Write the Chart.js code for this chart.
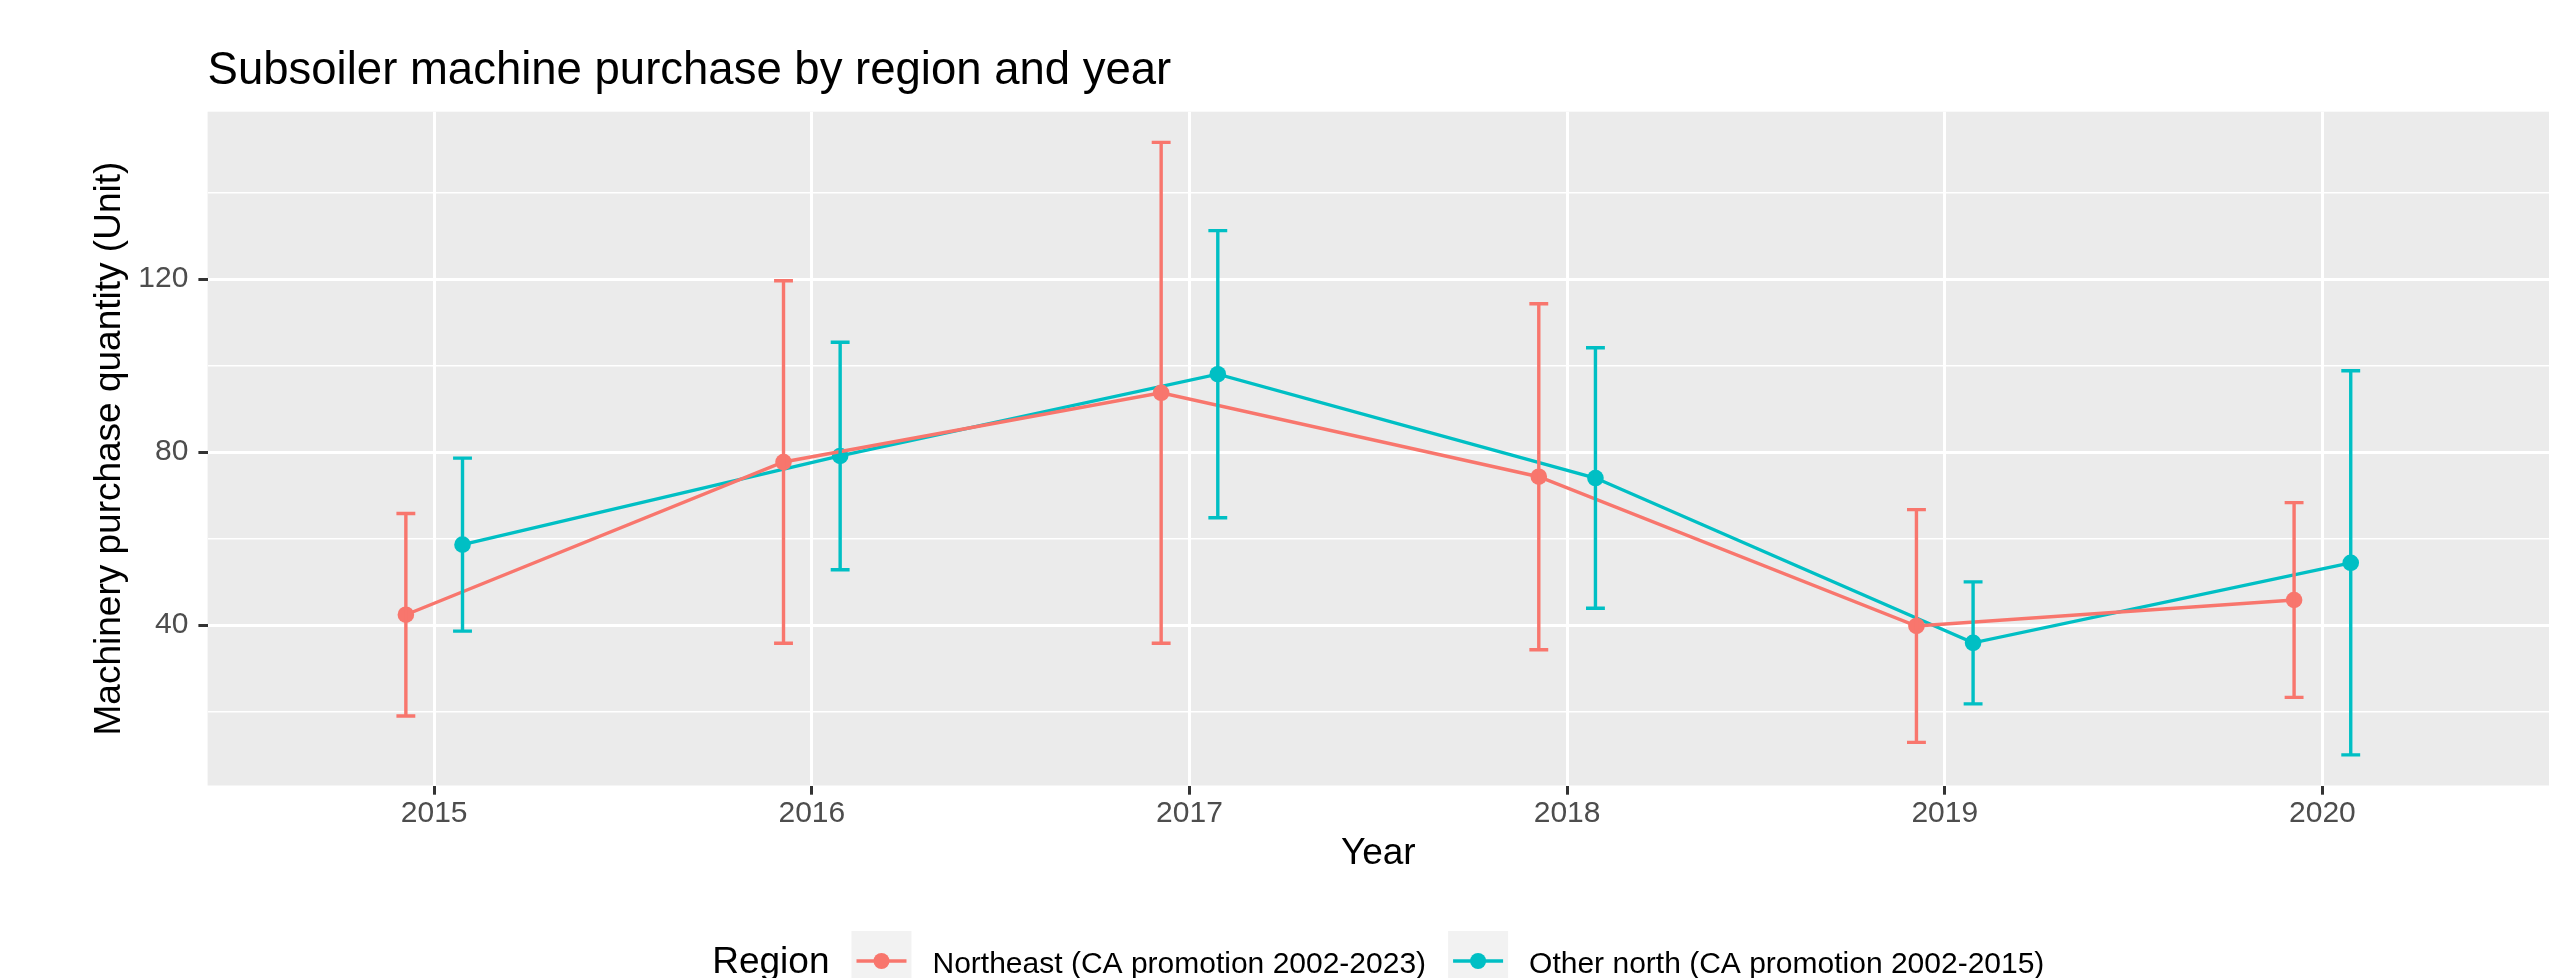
<!DOCTYPE html>
<html>
<head>
<meta charset="utf-8">
<script src="https://cdn.jsdelivr.net/npm/chart.js@4.4.1/dist/chart.umd.min.js"></script>
<style>
  html, body { margin: 0; padding: 0; background: #ffffff; }
  canvas { display: block; }
</style>
</head>
<body>
<canvas id="chart" width="2567" height="978"></canvas>
<script>
// Survey years and yearly mean purchases with their error half-widths
const years = [2015, 2016, 2017, 2018, 2019, 2020];
const northeastMean = [42.4, 77.7, 93.7, 74.3, 39.8, 45.8];
const northeastErr  = [23.4, 41.9, 57.9, 40.0, 26.9, 22.5];
const otherNorthMean = [58.6, 79.1, 98.0, 74.0, 35.9, 54.4];
const otherNorthErr  = [20.0, 26.3, 33.2, 30.1, 14.1, 44.4];

const seriesNames = ['Northeast (CA promotion 2002-2023)', 'Other north (CA promotion 2002-2015)'];
const seriesColors = ['#F8766D', '#00BFC4'];
const yMajorTicks = [40, 80, 120];
const yMinorTicks = [20, 60, 100, 140];

const titleText = 'Subsoiler machine purchase by region and year';
const xTitle = 'Year';
const yTitle = 'Machinery purchase quantity (Unit)';
const legendTitle = 'Region';

const FONT = '"Liberation Sans", Arial, Helvetica, sans-serif';
const DODGE = 0.075;      // horizontal offset of each group around its year
const CAP_HALF = 0.025;   // half-width of error bar caps, in year units
const LINE_W = 3.4;

// y limits: data extent padded by 5% on each side
const allLow = northeastMean.map((m, i) => m - northeastErr[i])
  .concat(otherNorthMean.map((m, i) => m - otherNorthErr[i]));
const allHigh = northeastMean.map((m, i) => m + northeastErr[i])
  .concat(otherNorthMean.map((m, i) => m + otherNorthErr[i]));
const dataMin = Math.min(...allLow), dataMax = Math.max(...allHigh);
const ySpan = dataMax - dataMin;
const yMin = dataMin - 0.05 * ySpan;
const yMax = dataMax + 0.05 * ySpan;
const xMin = years[0] - 0.6;
const xMax = years[years.length - 1] + 0.6;

function buildPoints(means, offset) {
  return years.map((yr, i) => ({ x: yr + offset, y: means[i] }));
}

const panelBackground = {
  id: 'panelBackground',
  beforeDraw(chart) {
    const { ctx, chartArea: a } = chart;
    ctx.save();
    ctx.fillStyle = '#ffffff';
    ctx.fillRect(0, 0, chart.width, chart.height);
    ctx.fillStyle = '#EBEBEB';
    ctx.fillRect(a.left, a.top, a.right - a.left, a.bottom - a.top);
    ctx.restore();
  }
};

const errorBars = {
  id: 'errorBars',
  afterDatasetsDraw(chart) {
    const { ctx, scales: { x, y } } = chart;
    ctx.save();
    chart.data.datasets.forEach((ds) => {
      ctx.strokeStyle = ds.borderColor;
      ctx.lineWidth = LINE_W;
      ctx.lineCap = 'butt';
      years.forEach((yr, i) => {
        const xv = yr + ds.dodge;
        const px = x.getPixelForValue(xv);
        const half = x.getPixelForValue(xv + CAP_HALF) - px;
        const lo = y.getPixelForValue(ds.means[i] - ds.errors[i]);
        const hi = y.getPixelForValue(ds.means[i] + ds.errors[i]);
        ctx.beginPath();
        ctx.moveTo(px, lo); ctx.lineTo(px, hi);
        ctx.moveTo(px - half, lo); ctx.lineTo(px + half, lo);
        ctx.moveTo(px - half, hi); ctx.lineTo(px + half, hi);
        ctx.stroke();
      });
    });
    ctx.restore();
  }
};

const plotTitle = {
  id: 'plotTitle',
  afterDraw(chart) {
    const { ctx, chartArea: a } = chart;
    ctx.save();
    ctx.font = '45.5px ' + FONT;
    ctx.fillStyle = '#000000';
    ctx.textBaseline = 'alphabetic';
    ctx.textAlign = 'left';
    ctx.fillText(titleText, a.left, 84);
    ctx.restore();
  }
};

const regionLegend = {
  id: 'regionLegend',
  afterDraw(chart) {
    const { ctx, chartArea: a } = chart;
    const keyW = 60, gapTitle = 22, gapKey = 21, gapItem = 22;
    const cy = 961, baseline = 972.5;
    ctx.save();
    ctx.font = '37px ' + FONT;
    const titleW = ctx.measureText(legendTitle).width;
    ctx.font = '30px ' + FONT;
    const labelWs = chart.data.datasets.map(ds => ctx.measureText(ds.label).width);
    let total = titleW + gapTitle;
    labelWs.forEach((w, i) => { total += keyW + gapKey + w + (i < labelWs.length - 1 ? gapItem : 0); });
    let x = (a.left + a.right) / 2 - total / 2;

    ctx.fillStyle = '#000000';
    ctx.textBaseline = 'alphabetic';
    ctx.textAlign = 'left';
    ctx.font = '37px ' + FONT;
    ctx.fillText(legendTitle, x, baseline);
    x += titleW + gapTitle;

    chart.data.datasets.forEach((ds, i) => {
      ctx.fillStyle = '#F2F2F2';
      ctx.fillRect(x, cy - keyW / 2, keyW, keyW);
      ctx.strokeStyle = ds.borderColor;
      ctx.lineWidth = LINE_W;
      ctx.beginPath();
      ctx.moveTo(x + 5, cy); ctx.lineTo(x + keyW - 5, cy);
      ctx.stroke();
      ctx.fillStyle = ds.borderColor;
      ctx.beginPath();
      ctx.arc(x + keyW / 2, cy, 8, 0, Math.PI * 2);
      ctx.fill();
      x += keyW + gapKey;
      ctx.fillStyle = '#000000';
      ctx.font = '30px ' + FONT;
      ctx.fillText(ds.label, x, baseline);
      x += labelWs[i] + gapItem;
    });
    ctx.restore();
  }
};

function makeDataset(idx, means, errors, offset) {
  return {
    label: seriesNames[idx],
    data: buildPoints(means, offset),
    means: means,
    errors: errors,
    dodge: offset,
    borderColor: seriesColors[idx],
    backgroundColor: seriesColors[idx],
    borderWidth: LINE_W,
    pointRadius: 8.3,
    pointHoverRadius: 8.3,
    pointBorderWidth: 0,
    pointBackgroundColor: seriesColors[idx],
    tension: 0,
    fill: false
  };
}

new Chart(document.getElementById('chart'), {
  type: 'line',
  data: {
    datasets: [
      makeDataset(0, northeastMean, northeastErr, -DODGE),
      makeDataset(1, otherNorthMean, otherNorthErr, DODGE)
    ]
  },
  options: {
    responsive: false,
    devicePixelRatio: 1,
    animation: false,
    events: [],
    layout: { padding: { left: 0, right: 18, top: 111.7, bottom: 101.9 } },
    plugins: {
      legend: { display: false },
      title: { display: false },
      tooltip: { enabled: false }
    },
    scales: {
      x: {
        type: 'linear',
        min: xMin,
        max: xMax,
        afterBuildTicks: (s) => { s.ticks = years.map(v => ({ value: v })); },
        afterFit: (s) => { s.height = 90.6; },
        ticks: {
          callback: (v) => String(v),
          color: '#4D4D4D',
          font: { family: FONT, size: 30, lineHeight: 1.2 },
          padding: 1.2,
          maxRotation: 0,
          autoSkip: false
        },
        grid: {
          color: '#FFFFFF',
          lineWidth: 3,
          drawTicks: true,
          tickLength: 9.2,
          tickWidth: 3,
          tickColor: '#333333'
        },
        border: { display: false },
        title: {
          display: true,
          text: xTitle,
          color: '#000000',
          font: { family: FONT, size: 37, lineHeight: 1.2 },
          padding: { top: 0, bottom: 0 }
        }
      },
      y: {
        type: 'linear',
        min: yMin,
        max: yMax,
        afterBuildTicks: (s) => {
          s.ticks = yMinorTicks.concat(yMajorTicks).sort((a, b) => a - b).map(v => ({ value: v }));
        },
        afterFit: (s) => { s.width = 207.6; },
        ticks: {
          callback: (v) => (yMajorTicks.includes(v) ? String(v) : ''),
          color: '#4D4D4D',
          font: { family: FONT, size: 30, lineHeight: 1.2 },
          padding: 10,
          autoSkip: false
        },
        grid: {
          color: '#FFFFFF',
          lineWidth: (c) => (yMajorTicks.includes(c.tick && c.tick.value) ? 3 : 1.5),
          drawTicks: true,
          tickLength: 9.2,
          tickWidth: 3,
          tickColor: (c) => (yMajorTicks.includes(c.tick && c.tick.value) ? '#333333' : 'rgba(0,0,0,0)')
        },
        border: { display: false },
        title: {
          display: true,
          text: yTitle,
          color: '#000000',
          font: { family: FONT, size: 37, lineHeight: 1.2 },
          padding: { top: 87.8, bottom: 0 }
        }
      }
    }
  },
  plugins: [panelBackground, errorBars, plotTitle, regionLegend]
});
</script>
</body>
</html>
